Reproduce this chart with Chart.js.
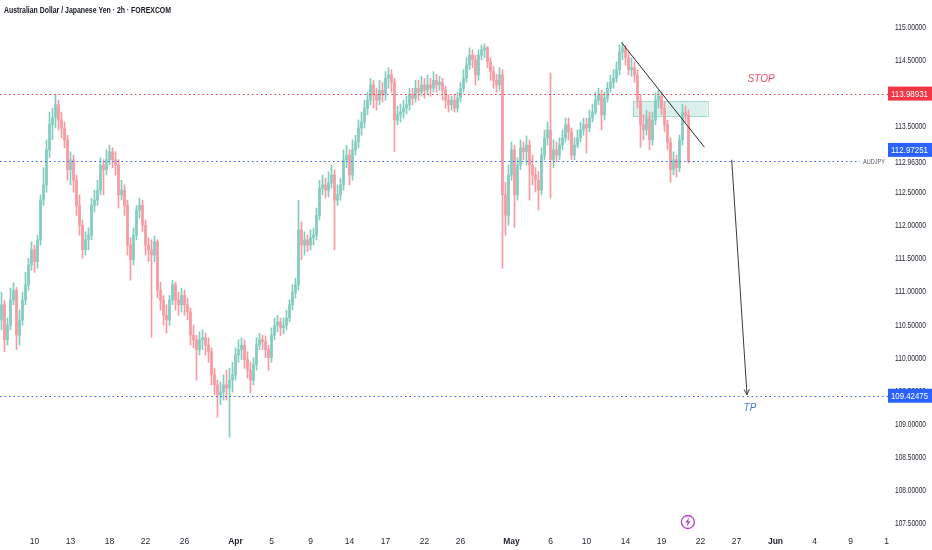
<!DOCTYPE html>
<html>
<head>
<meta charset="utf-8">
<script src="https://cdn.jsdelivr.net/npm/chart.js@4.4.1/dist/chart.umd.min.js"></script>
<style>
html,body{margin:0;padding:0;background:#ffffff;}
#wrap{width:932px;height:550px;position:relative;}
</style>
</head>
<body>
<div id="wrap"><canvas id="c"></canvas></div>
<script>
// ---------------- DATA ----------------
const chartTitle = 'Australian Dollar / Japanese Yen · 2h · FOREXCOM';
const symbolName = 'AUDJPY';
const firstOpen = 110.57;
const closes = [
110.80,110.27,110.49,110.87,111.02,110.34,110.57,110.87,111.10,111.40,
111.63,111.45,111.78,112.38,112.61,113.14,113.52,113.62,113.82,113.59,
113.47,113.29,112.84,112.99,112.68,112.30,112.00,111.63,111.78,111.85,
112.30,112.38,112.53,112.91,112.84,112.99,113.11,112.99,112.91,112.46,
112.53,112.30,111.70,111.48,111.85,112.23,112.30,112.00,111.70,111.63,
111.55,111.75,111.02,110.87,110.64,110.57,110.87,111.10,110.87,110.80,
110.94,110.80,110.69,110.34,110.27,110.12,110.27,110.30,110.19,110.09,
109.74,109.59,109.44,109.48,109.59,109.54,109.66,109.74,110.04,110.12,
110.19,109.97,109.81,109.66,109.89,110.19,110.27,110.24,110.12,110.00,
110.34,110.49,110.54,110.45,110.49,110.60,110.80,110.99,111.10,111.93,
111.70,111.78,111.70,111.81,111.85,112.15,112.56,112.61,112.53,112.64,
112.76,112.38,112.46,112.61,112.99,113.06,112.76,113.14,113.26,113.47,
113.56,113.77,113.89,114.12,113.97,113.89,114.04,113.97,114.22,114.27,
114.16,113.59,113.67,113.71,113.77,113.82,113.97,113.92,114.07,114.01,
114.12,114.04,114.12,114.07,114.19,114.12,114.16,114.04,113.89,113.82,
113.89,113.77,113.92,114.07,114.22,114.42,114.57,114.50,114.27,114.57,
114.65,114.68,114.47,114.32,114.19,114.12,114.27,112.46,112.15,112.76,
113.14,112.46,112.91,113.17,113.11,113.21,112.91,112.76,112.68,112.53,
113.06,113.32,113.44,112.99,113.14,113.06,113.21,113.32,113.52,113.41,
113.06,113.21,113.32,113.44,113.52,113.47,113.62,113.71,113.89,113.97,
113.67,113.92,114.07,114.16,114.22,114.35,114.62,114.68,114.53,114.35,
114.38,114.27,113.89,113.52,113.44,113.62,113.29,113.59,113.89,113.95,
113.77,113.52,113.26,112.84,112.99,112.87,113.29,113.71,113.67,112.963
];
const highs = [
110.99,110.87,110.60,111.05,111.13,111.06,110.72,110.99,111.29,111.50,
111.75,111.70,111.85,112.46,112.87,113.29,113.71,113.77,113.98,113.89,
113.71,113.56,113.36,113.11,113.06,112.76,112.46,112.08,111.90,111.96,
112.41,112.53,112.68,113.02,112.99,113.14,113.21,113.17,113.11,112.99,
112.68,112.61,112.38,111.81,111.96,112.30,112.41,112.38,112.08,111.81,
111.78,111.84,111.78,111.14,110.94,110.80,110.94,111.17,111.14,110.99,
111.05,111.02,110.90,110.75,110.49,110.34,110.39,110.42,110.37,110.30,
110.15,109.84,109.66,109.63,109.74,109.81,109.84,109.93,110.15,110.27,
110.30,110.27,110.09,109.93,110.00,110.30,110.37,110.34,110.33,110.19,
110.45,110.60,110.64,110.60,110.60,110.72,110.87,111.10,111.20,112.38,
112.05,111.90,111.85,111.93,111.96,112.26,112.68,112.76,112.71,112.81,
112.91,112.84,112.61,112.71,113.14,113.21,113.14,113.29,113.36,113.59,
113.71,113.89,114.01,114.22,114.19,114.07,114.19,114.16,114.32,114.38,
114.35,114.22,113.80,113.83,113.89,113.95,114.07,114.07,114.19,114.19,
114.25,114.22,114.27,114.22,114.32,114.28,114.25,114.22,114.10,113.97,
113.95,113.97,114.01,114.16,114.35,114.53,114.68,114.65,114.57,114.65,
114.72,114.74,114.70,114.53,114.40,114.28,114.38,114.35,112.65,112.91,
113.26,113.21,113.02,113.29,113.26,113.35,113.29,113.06,112.87,112.81,
113.17,113.44,113.56,114.30,113.29,113.26,113.32,113.44,113.62,113.62,
113.47,113.32,113.44,113.56,113.62,113.62,113.74,113.83,114.01,114.07,
114.04,114.01,114.16,114.27,114.35,114.47,114.72,114.77,114.72,114.62,
114.53,114.47,114.35,113.97,113.67,113.74,113.71,113.71,114.00,114.04,
114.01,113.86,113.59,113.32,113.11,113.06,113.36,113.83,113.80,113.74
];
const lows = [
110.42,110.09,110.19,110.42,110.80,110.12,110.19,110.49,110.80,111.02,
111.32,111.29,111.35,111.70,112.30,112.50,113.02,113.29,113.47,113.44,
113.32,113.17,112.68,112.61,112.50,112.15,111.85,111.50,111.55,111.63,
111.78,112.20,112.30,112.46,112.46,112.76,112.91,112.87,112.76,112.26,
112.38,112.15,111.55,111.17,111.40,111.78,112.11,111.90,111.55,111.45,
110.31,111.45,110.90,110.72,110.49,110.37,110.49,110.80,110.72,110.64,
110.69,110.64,110.57,110.19,110.15,109.66,110.04,110.12,110.04,109.93,
109.59,109.44,109.10,109.29,109.36,109.36,108.80,109.48,109.66,109.93,
109.97,109.84,109.69,109.47,109.59,109.81,110.12,110.12,110.00,109.81,
109.93,110.27,110.39,110.33,110.36,110.42,110.54,110.72,110.90,111.02,
111.48,111.55,111.60,111.63,111.70,111.78,112.08,112.46,112.41,112.43,
112.56,111.63,112.30,112.38,112.53,112.87,112.61,112.68,113.06,113.17,
113.36,113.47,113.67,113.82,113.77,113.74,113.82,113.86,113.89,114.07,
114.01,113.11,113.52,113.56,113.62,113.68,113.74,113.82,113.86,113.89,
113.95,113.92,113.97,113.95,114.01,114.01,114.04,113.89,113.77,113.71,
113.74,113.71,113.71,113.86,114.01,114.16,114.35,114.38,114.12,114.19,
114.50,114.53,114.38,114.19,114.07,114.01,114.04,111.35,111.85,112.00,
112.68,111.97,112.38,112.84,112.99,112.91,112.38,112.61,112.50,112.23,
112.46,112.99,113.21,112.41,112.87,112.96,112.99,113.14,113.26,113.29,
112.99,112.99,113.17,113.26,113.36,113.09,113.41,113.56,113.67,113.82,
113.44,113.59,113.86,114.01,114.07,114.16,114.27,114.50,114.42,114.27,
114.25,114.16,113.77,113.18,113.29,113.36,113.14,113.21,113.52,113.77,
113.67,113.41,113.14,112.65,112.76,112.73,112.81,113.21,113.56,112.94
];
const totalSlots = 296;
const dateTickIdx  = [11,23,36,48,61,78,90,103,116,128,141,153,170,183,195,208,220,233,245,258,271,283,295];
const dateTickText = ['10','13','18','22','26','Apr','5','9','14','17','22','26','May','6','10','14','19','22','27','Jun','4','9','1'];
const monthNames = ['Apr','May','Jun'];
const yMin = 107.427, yMax = 115.403, yStep = 0.5;
const stopLevel = 113.98931;
const entryLevel = 112.97251;
const tpLevel = 109.42475;
const lastPrice = 112.963;
const trendLine = [[206.7, 114.76], [234.3, 113.18]];
const zoneBox = [[210.4, 113.87], [235.3, 113.64]];
const arrowPath = [[243.4, 112.99], [248.5, 109.44]];
const stopNote = ['STOP', 253.2, 114.21];
const tpNote = ['TP', 249.5, 109.23];
const eventIconIdx = 228.8;

// ---------------- BUILD ----------------
const opens = closes.map((c, i) => i === 0 ? firstOpen : closes[i - 1]);
const colUp = '#83ccc0', colDown = '#f79aa2';
const barColors = closes.map((c, i) => c >= opens[i] ? colUp : colDown);
const labels = Array.from({length: totalSlots}, (_, i) => {
  const k = dateTickIdx.indexOf(i);
  return k >= 0 ? dateTickText[k] : '';
});
const FONT = "'Liberation Sans', Arial, sans-serif";

function fitText(ctx, text, x, y, width) {
  const w = ctx.measureText(text).width;
  ctx.save();
  ctx.translate(x, y);
  ctx.scale(width / w, 1);
  ctx.fillText(text, 0, 0);
  ctx.restore();
}

const overlay = {
  id: 'overlay',
  beforeDatasetsDraw(chart) {
    const {ctx, scales: {x, y}} = chart;
    const x1 = x.getPixelForValue(zoneBox[0][0]), y1 = y.getPixelForValue(zoneBox[0][1]);
    const x2 = x.getPixelForValue(zoneBox[1][0]), y2 = y.getPixelForValue(zoneBox[1][1]);
    ctx.save();
    ctx.fillStyle = 'rgba(8,153,129,0.15)';
    ctx.fillRect(x1, y1, x2 - x1, y2 - y1);
    ctx.strokeStyle = 'rgba(8,153,129,0.30)';
    ctx.lineWidth = 1;
    ctx.strokeRect(Math.round(x1) + 0.5, Math.round(y1) + 0.5, Math.round(x2 - x1), Math.round(y2 - y1));
    ctx.restore();
  },
  afterDraw(chart) {
    const {ctx, chartArea: ca, scales: {x, y}} = chart;
    const W = chart.width;
    ctx.save();
    // dotted horizontal levels
    function hline(val, color, xEnd) {
      const py = Math.round(y.getPixelForValue(val)) + 0.5;
      ctx.beginPath();
      ctx.setLineDash([1.5, 3]);
      ctx.strokeStyle = color;
      ctx.lineWidth = 1;
      ctx.moveTo(0, py);
      ctx.lineTo(xEnd, py);
      ctx.stroke();
      ctx.setLineDash([]);
    }
    hline(stopLevel, '#f23645', ca.right);
    hline(entryLevel, '#2962ff', ca.right - 28);
    hline(tpLevel, '#2962ff', ca.right);

    // trend line
    ctx.beginPath();
    ctx.strokeStyle = '#2a2a2a';
    ctx.lineWidth = 1;
    ctx.moveTo(x.getPixelForValue(trendLine[0][0]), y.getPixelForValue(trendLine[0][1]));
    ctx.lineTo(x.getPixelForValue(trendLine[1][0]), y.getPixelForValue(trendLine[1][1]));
    ctx.stroke();

    // arrow
    const ax1 = x.getPixelForValue(arrowPath[0][0]), ay1 = y.getPixelForValue(arrowPath[0][1]);
    const ax2 = x.getPixelForValue(arrowPath[1][0]), ay2 = y.getPixelForValue(arrowPath[1][1]);
    ctx.beginPath();
    ctx.strokeStyle = '#3a3a3a';
    ctx.moveTo(ax1, ay1); ctx.lineTo(ax2, ay2);
    const ang = Math.atan2(ay2 - ay1, ax2 - ax1);
    const hl = 6;
    ctx.moveTo(ax2, ay2); ctx.lineTo(ax2 - hl * Math.cos(ang - 0.45), ay2 - hl * Math.sin(ang - 0.45));
    ctx.moveTo(ax2, ay2); ctx.lineTo(ax2 - hl * Math.cos(ang + 0.45), ay2 - hl * Math.sin(ang + 0.45));
    ctx.stroke();

    // notes
    ctx.textAlign = 'center';
    ctx.textBaseline = 'middle';
    ctx.font = 'italic 10px ' + FONT;
    ctx.fillStyle = '#ee4f63';
    ctx.fillText(stopNote[0], x.getPixelForValue(stopNote[1]), y.getPixelForValue(stopNote[2]));
    ctx.fillStyle = '#4a72ee';
    ctx.fillText(tpNote[0], x.getPixelForValue(tpNote[1]), y.getPixelForValue(tpNote[2]));

    // y-axis tick labels (from the scale's own ticks)
    const bx = ca.right, bw = W - ca.right;
    ctx.fillStyle = '#1e222d';
    ctx.font = '9px ' + FONT;
    ctx.textAlign = 'left';
    ctx.textBaseline = 'middle';
    y.ticks.forEach(t => {
      const py = y.getPixelForValue(t.value);
      fitText(ctx, Number(t.value).toFixed(5), bx + 7, py + 0.5, 31);
    });

    // last price text label (AUDJPY)
    const lp = y.getPixelForValue(lastPrice);
    ctx.fillStyle = '#ffffff';
    ctx.fillRect(bx, lp - 6, bw, 12);
    ctx.fillStyle = '#1e222d';
    ctx.font = '9px ' + FONT;
    fitText(ctx, lastPrice.toFixed(5), bx + 7, lp + 0.5, 31);
    ctx.fillStyle = '#555a66';
    ctx.font = '8px ' + FONT;
    fitText(ctx, symbolName, ca.right - 25, lp + 0.5, 22);

    function priceBox(val, bg, dy) {
      const py = y.getPixelForValue(val) + dy;
      ctx.fillStyle = bg;
      ctx.fillRect(bx, py - 7, bw, 14);
      ctx.fillStyle = '#ffffff';
      ctx.font = '9px ' + FONT;
      ctx.textAlign = 'left';
      ctx.textBaseline = 'middle';
      fitText(ctx, val.toFixed(5), bx + 3, py + 0.5, 37);
    }
    priceBox(stopLevel, '#f23645', 0);
    priceBox(entryLevel, '#2962ff', -11);
    priceBox(tpLevel, '#2962ff', 0);

    // title
    ctx.fillStyle = '#131722';
    ctx.font = '600 9px ' + FONT;
    ctx.textAlign = 'left';
    ctx.textBaseline = 'middle';
    fitText(ctx, chartTitle, 4, 11, 167);

    // event icon
    const ix = x.getPixelForValue(eventIconIdx), iy = ca.bottom - 6;
    ctx.beginPath();
    ctx.strokeStyle = '#b53ec6';
    ctx.lineWidth = 1.3;
    ctx.arc(ix, iy, 6.5, 0, Math.PI * 2);
    ctx.stroke();
    ctx.beginPath();
    ctx.fillStyle = '#b53ec6';
    ctx.moveTo(ix + 1.2, iy - 4.5);
    ctx.lineTo(ix - 2.6, iy + 0.6);
    ctx.lineTo(ix - 0.2, iy + 0.6);
    ctx.lineTo(ix - 1.2, iy + 4.5);
    ctx.lineTo(ix + 2.6, iy - 0.6);
    ctx.lineTo(ix + 0.2, iy - 0.6);
    ctx.closePath();
    ctx.fill();
    ctx.restore();
  }
};

new Chart(document.getElementById('c'), {
  type: 'bar',
  data: {
    labels: labels,
    datasets: [
      {
        label: 'wick',
        data: lows.map((l, i) => [l, highs[i]]),
        backgroundColor: barColors,
        barThickness: 1,
        grouped: false,
        order: 2
      },
      {
        label: 'body',
        data: opens.map((o, i) => [o, closes[i]]),
        backgroundColor: barColors,
        barThickness: 2,
        minBarLength: 1,
        grouped: false,
        order: 1
      }
    ]
  },
  options: {
    responsive: true,
    maintainAspectRatio: false,
    animation: false,
    layout: {padding: 0},
    plugins: {legend: {display: false}, tooltip: {enabled: false}},
    scales: {
      x: {
        type: 'category',
        offset: true,
        grid: {display: false, drawTicks: false},
        border: {display: false},
        ticks: {
          autoSkip: false, maxRotation: 0, minRotation: 0, padding: 9,
          color: '#1e222d',
          font: (c) => ({family: FONT, size: 8.5, weight: (c.tick && monthNames.includes(c.tick.label)) ? 'bold' : 'normal'})
        },
        afterFit: (a) => { a.height = 22; a.paddingLeft = 0; a.paddingRight = 0; }
      },
      y: {
        position: 'right',
        min: yMin, max: yMax,
        grid: {display: false, drawTicks: false},
        border: {display: false},
        ticks: {
          display: false,
          stepSize: yStep, includeBounds: false
        },
        afterFit: (a) => { a.width = 44; a.paddingTop = 0; a.paddingBottom = 0; }
      }
    }
  },
  plugins: [overlay]
});
</script>
</body>
</html>
